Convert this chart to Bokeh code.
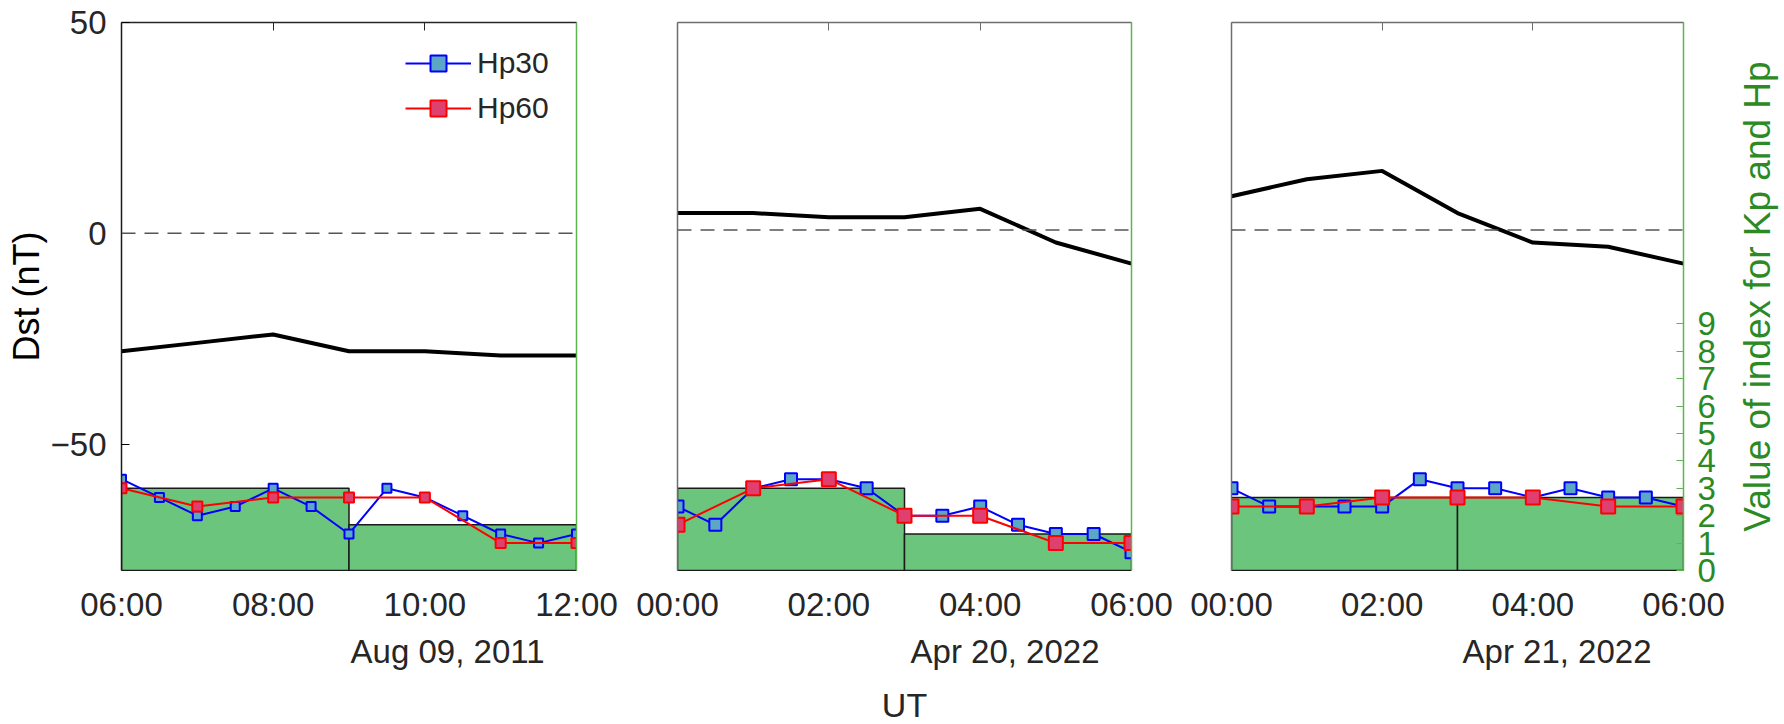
import pandas as pd
from bokeh.plotting import figure
from bokeh.layouts import row, column
from bokeh.models import (Range1d, LinearAxis, DatetimeAxis, FixedTicker, DatetimeTickFormatter,
                          CustomJSTickFormatter, Span, Title, Label, Legend, LegendItem)
from bokeh.embed import file_html
from bokeh.resources import INLINE

# ---------------- data ----------------
days = ["2011-08-09", "2022-04-20", "2022-04-21"]
date_labels = ["Aug 09, 2011", "Apr 20, 2022", "Apr 21, 2022"]
start_hours = [6, 0, 0]
end_hours = [12, 6, 6]
tick_hours = [[6, 8, 10, 12], [0, 2, 4, 6], [0, 2, 4, 6]]

# Dst (nT), hourly
dst_1 = [-28, -26, -24, -28, -28, -29, -29]
dst_2 = [4, 4, 3, 3, 5, -3, -8]
dst_3 = [8, 12, 14, 4, -3, -4, -8]

# Hp30 (every 30 min), Hp60 (hourly), Kp (3-hourly)
hp30_1 = [3.333, 2.667, 2.0, 2.333, 3.0, 2.333, 1.333, 3.0, 2.667, 2.0, 1.333, 1.0, 1.333]
hp60_1 = [3.0, 2.333, 2.667, 2.667, 2.667, 1.0, 1.0]
kp_1 = [3.0, 1.667]

hp30_2 = [2.333, 1.667, 3.0, 3.333, 3.333, 3.0, 2.0, 2.0, 2.333, 1.667, 1.333, 1.333, 0.667]
hp60_2 = [1.667, 3.0, 3.333, 2.0, 2.0, 1.0, 1.0]
kp_2 = [3.0, 1.333]

hp30_3 = [3.0, 2.333, 2.333, 2.333, 2.333, 3.333, 3.0, 3.0, 2.667, 3.0, 2.667, 2.667, 2.333]
hp60_3 = [2.333, 2.333, 2.667, 2.667, 2.667, 2.333, 2.333]
kp_3 = [2.667, 2.667]

dst_series = [dst_1, dst_2, dst_3]
hp30_series = [hp30_1, hp30_2, hp30_3]
hp60_series = [hp60_1, hp60_2, hp60_3]
kp_series = [kp_1, kp_2, kp_3]

dst_ranges = [(-80, 50), (-80.8, 49.2), (-80.8, 49.2)]
kp_range = (0, 20)
kp_ticks = [0, 1, 2, 3, 4, 5, 6, 7, 8, 9]
dst_ticks = [-50, 0, 50]

x_title = "UT"
y_title = "Dst (nT)"
y2_title = "Value of index for Kp and Hp"

# ---------------- style / layout ----------------
FONT = "Liberation Sans"
TXT = "#262626"
GREEN_TXT = "#2b8a23"
GREEN_LINE = "#5cb552"
BAR_FILL = "#6cc57c"
HP30_LINE, HP30_FILL = "#0000ff", "#5ba7c6"
HP60_LINE, HP60_FILL = "#ff0000", "#de4070"

W_TOTAL, H_TOTAL = 1784, 724
FRAME_H = 548
BORDER_TOP, BORDER_BOTTOM = 22, 106
H_PANEL = BORDER_TOP + FRAME_H + BORDER_BOTTOM   # panel row height; strip below holds "UT"
borders = [(121, 50), (51, 50), (50, 50)]
frame_w = [455, 454, 452]
widths = [b[0] + f + b[1] for b, f in zip(borders, frame_w)]
W_SIDE = W_TOTAL - sum(widths)     # strip at the right holding the right-axis title
marker30 = [9, 12, 12]
marker60 = [10, 14, 14]


def ms(ts):
    return (ts - pd.Timestamp("1970-01-01")) // pd.Timedelta(milliseconds=1)


fmt = DatetimeTickFormatter(hours="%H:%M", days="%H:%M", hourmin="%H:%M", minutes="%H:%M",
                            minsec="%H:%M", months="%H:%M", years="%H:%M")

panels = []
for i in range(3):
    day = pd.Timestamp(days[i])
    t0 = day + pd.Timedelta(hours=start_hours[i])
    t1 = day + pd.Timedelta(hours=end_hours[i])
    t_hour = pd.date_range(t0, t1, freq="60min")
    t_half = pd.date_range(t0, t1, freq="30min")
    kp_left = pd.date_range(t0, periods=len(kp_series[i]), freq="3h")
    kp_right = kp_left + pd.Timedelta(hours=3)
    ticks = [ms(day + pd.Timedelta(hours=h)) for h in tick_hours[i]]

    p = figure(width=widths[i], height=H_PANEL, x_axis_type=None, y_axis_type=None,
               x_range=Range1d(t0, t1), y_range=Range1d(*dst_ranges[i]),
               output_backend="svg", toolbar_location=None,
               min_border_left=borders[i][0], min_border_right=borders[i][1],
               min_border_top=BORDER_TOP, min_border_bottom=BORDER_BOTTOM)
    p.outline_line_color = None
    p.background_fill_color = "white"
    p.border_fill_color = "white"
    p.extra_y_ranges = {"kp": Range1d(*kp_range)}

    # Kp bars
    p.quad(left=kp_left, right=kp_right, bottom=0, top=kp_series[i], y_range_name="kp",
           fill_color=BAR_FILL, line_color="#1a1a1a", line_width=1.5)

    # zero line
    p.add_layout(Span(location=0, dimension="width", line_color="#555555",
                      line_width=1.5, line_dash="14 9"))

    # Dst
    p.line(t_hour, dst_series[i], line_color="black", line_width=4)

    # Hp30 / Hp60
    l30 = p.line(t_half, hp30_series[i], y_range_name="kp", line_color=HP30_LINE, line_width=2)
    s30 = p.scatter(t_half, hp30_series[i], y_range_name="kp", marker="square", size=marker30[i],
                    fill_color=HP30_FILL, line_color=HP30_LINE, line_width=2)
    l60 = p.line(t_hour, hp60_series[i], y_range_name="kp", line_color=HP60_LINE, line_width=2)
    s60 = p.scatter(t_hour, hp60_series[i], y_range_name="kp", marker="square", size=marker60[i],
                    fill_color=HP60_FILL, line_color=HP60_LINE, line_width=2)

    # bottom axis
    xb = DatetimeAxis(ticker=FixedTicker(ticks=ticks), formatter=fmt)
    xb.major_tick_in = 0
    xb.major_tick_out = 0
    xb.minor_tick_line_color = None
    xb.axis_line_color = "#1a1a1a"
    xb.major_label_standoff = 15
    xb.major_label_text_font = FONT
    xb.major_label_text_font_size = "33px"
    xb.major_label_text_color = TXT
    p.add_layout(xb, "below")

    # date label under the time axis
    p.add_layout(Title(text=date_labels[i], align="right", offset=32, standoff=10,
                       text_font=FONT, text_font_size="33px", text_font_style="normal",
                       text_color=TXT), "below")

    # top axis (ticks only)
    xt = DatetimeAxis(ticker=FixedTicker(ticks=ticks),
                      formatter=CustomJSTickFormatter(code="return ''"))
    xt.major_tick_in = 8
    xt.major_tick_out = 0
    xt.minor_tick_line_color = None
    xt.major_label_text_font_size = "0px"
    xt.major_label_standoff = 0
    xt.axis_line_color = "#262626" if i == 0 else "#6e6e6e"
    xt.axis_line_width = 1.5
    xt.major_tick_line_color = xt.axis_line_color
    p.add_layout(xt, "above")

    # left axis
    if i == 0:
        yl = LinearAxis(ticker=FixedTicker(ticks=dst_ticks), axis_label=y_title)
        yl.major_tick_in = 8
        yl.major_tick_out = 0
        yl.major_label_standoff = 15
        yl.major_label_text_font = FONT
        yl.major_label_text_font_size = "33px"
        yl.major_label_text_color = TXT
        yl.axis_label_text_font = FONT
        yl.axis_label_text_font_size = "36px"
        yl.axis_label_text_font_style = "normal"
        yl.axis_label_text_color = "black"
        yl.axis_label_standoff = 1
        yl.axis_line_color = "#1a1a1a"
        yl.axis_line_width = 1.5
    else:
        yl = LinearAxis(ticker=FixedTicker(ticks=[]),
                        formatter=CustomJSTickFormatter(code="return ''"))
        yl.major_label_text_font_size = "0px"
        yl.major_label_standoff = 0
        yl.major_tick_out = 0
        yl.axis_line_color = "#6e6e6e"
        yl.axis_line_width = 1.5
    yl.minor_tick_line_color = None
    p.add_layout(yl, "left")

    # right axis (Kp / Hp)
    if i == 2:
        yr = LinearAxis(y_range_name="kp", ticker=FixedTicker(ticks=kp_ticks))
        yr.major_tick_in = 7
        yr.major_tick_out = 0
        yr.major_label_standoff = 14
        yr.major_label_orientation = "horizontal"
        yr.major_label_text_font = FONT
        yr.major_label_text_font_size = "33px"
        yr.major_label_text_color = GREEN_TXT
        yr.major_tick_line_color = GREEN_LINE
    else:
        yr = LinearAxis(y_range_name="kp", ticker=FixedTicker(ticks=[]),
                        formatter=CustomJSTickFormatter(code="return ''"))
        yr.major_label_text_font_size = "0px"
        yr.major_label_standoff = 0
        yr.major_tick_out = 0
    yr.minor_tick_line_color = None
    yr.axis_line_color = GREEN_LINE
    yr.axis_line_width = 1.5
    p.add_layout(yr, "right")

    if i == 0:
        legend = Legend(items=[LegendItem(label="Hp30", renderers=[l30, s30]),
                               LegendItem(label="Hp60", renderers=[l60, s60])],
                        location=(284, 442), glyph_width=66, glyph_height=40,
                        label_height=40, spacing=5, padding=0, margin=0,
                        label_standoff=6, label_text_font=FONT,
                        label_text_font_size="30px", label_text_color=TXT,
                        border_line_alpha=0, background_fill_alpha=0)
        p.add_layout(legend)

    panels.append(p)


def blank(w, h, **kw):
    f = figure(width=w, height=h, x_range=Range1d(0, 1), y_range=Range1d(0, 1),
               x_axis_type=None, y_axis_type=None, output_backend="svg",
               toolbar_location=None, **kw)
    f.outline_line_color = None
    f.grid.visible = False
    f.background_fill_color = "white"
    f.border_fill_color = "white"
    return f


# right-hand strip: title of the Kp / Hp axis (reads bottom to top), centred on the frames
side = blank(W_SIDE, H_PANEL, min_border_left=0, min_border_right=0,
             min_border_top=BORDER_TOP, min_border_bottom=BORDER_BOTTOM)
side.add_layout(Title(text=y2_title, align="center", standoff=2, text_font=FONT,
                      text_font_size="37px", text_font_style="normal",
                      text_color=GREEN_TXT), "left")

# bottom strip: "UT", centred under the middle panel
strip = blank(W_TOTAL, H_TOTAL - H_PANEL, min_border=0)
strip.x_range = Range1d(0, W_TOTAL)
strip.y_range = Range1d(0, H_TOTAL - H_PANEL)
ut_x = widths[0] + borders[1][0] + frame_w[1] / 2
strip.add_layout(Label(x=ut_x, y=20, text=x_title,
                       text_align="center", text_baseline="middle", text_font=FONT,
                       text_font_size="34px", text_color=TXT))

layout = column(row(*panels, side), strip)
open("out.html", "w").write(file_html(layout, INLINE))
